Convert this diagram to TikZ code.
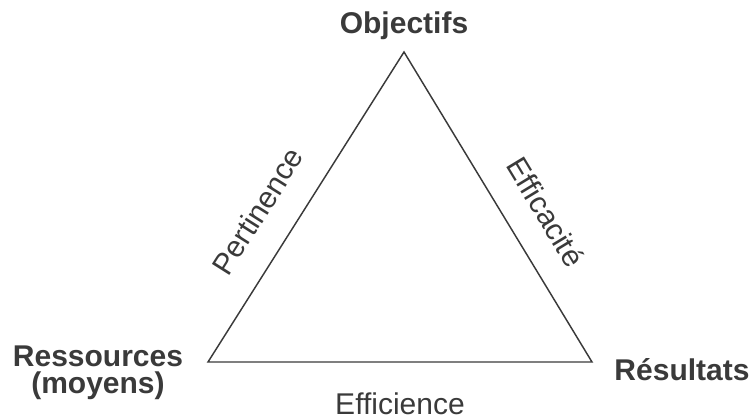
\documentclass[tikz,border=0pt]{standalone}
\usepackage{fontspec}
\setmainfont{Liberation Sans}
\definecolor{ink}{HTML}{3A3A3A}
\tikzset{
  corner/.style={font=\fontsize{22.5}{20}\selectfont\bfseries,text=ink},
  side/.style={font=\fontsize{22.5}{20}\selectfont,text=ink},
}
\begin{document}
\begin{tikzpicture}[x=0.75pt,y=-0.75pt]
\useasboundingbox (0,0) rectangle (754,419);
\coordinate (O) at (404,52);
\coordinate (R) at (208,362);
\coordinate (S) at (592,362);
\draw[line width=1.1pt,ink,line join=miter]
  (R) -- node[side,sloped,above=17pt,pos=0.42] (pert) {Pertinence} (O)
      -- node[side,sloped,above=16.5pt,pos=0.58] (effic) {Efficacité} (S)
      -- node[side,below=19pt,pos=0.5] (effi) {Efficience} (R) -- cycle;
\node[corner,anchor=base] (obj) at (404,33) {Objectifs};
\node[corner,anchor=base,align=center] (res) at (98,393) {Ressources\\(moyens)};
\node[corner,anchor=base] (resu) at (682,380) {Résultats};
\end{tikzpicture}
\end{document}
